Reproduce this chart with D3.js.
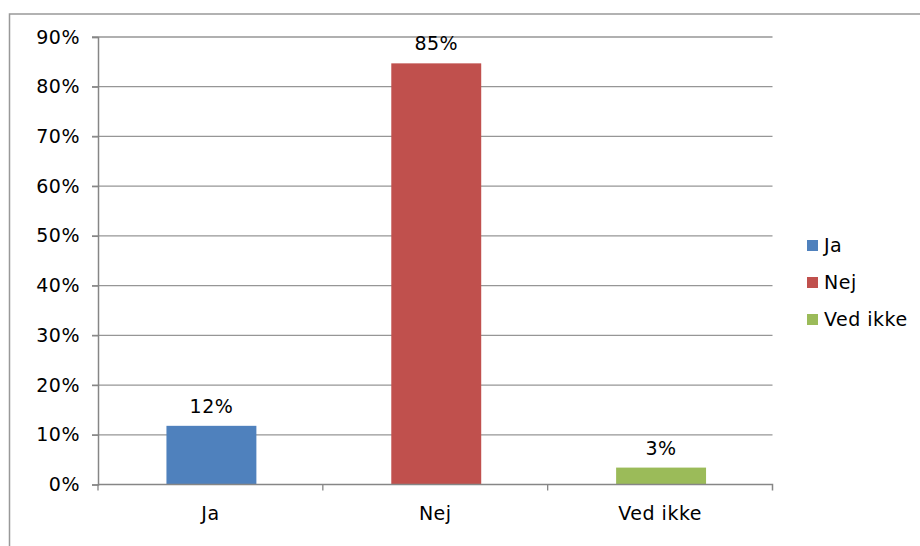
<!DOCTYPE html>
<html>
<head>
<meta charset="utf-8">
<script src="https://cdn.jsdelivr.net/npm/d3@7.9.0/dist/d3.min.js"></script>
<style>
  body { margin: 0; background: #fff; }
  svg text { font-family: Verdana, "DejaVu Sans", sans-serif; font-size: 19px; letter-spacing: 0.5px; fill: #000; }
</style>
</head>
<body>
<svg id="chart" width="920" height="546"></svg>
<script>
const categories = ["Ja", "Nej", "Ved ikke"];
const values = [11.8, 84.7, 3.4];
const colors = ["#4f81bd", "#c0504d", "#9bbb59"];
const yTicks = [0, 10, 20, 30, 40, 50, 60, 70, 80, 90];

const svg = d3.select("#chart");
const font = 'Verdana, "DejaVu Sans", sans-serif';

// outer frame (goes past the right/bottom edges)
svg.append("rect")
  .attr("x", 9.5).attr("y", 14)
  .attr("width", 930).attr("height", 560)
  .attr("fill", "none").attr("stroke", "#999").attr("stroke-width", 1.5);

const plot = { left: 98, right: 772.5, top: 37, bottom: 484.5 };

const x = d3.scaleBand().domain(categories)
  .range([plot.left, plot.right]).paddingInner(0).paddingOuter(0);
const y = d3.scaleLinear().domain([0, 90]).range([plot.bottom, plot.top]);

// gridlines
svg.append("g").selectAll("line").data(yTicks.filter(d => d > 0)).join("line")
  .attr("x1", plot.left - 6).attr("x2", plot.right)
  .attr("y1", d => y(d)).attr("y2", d => y(d))
  .attr("stroke", "#969696").attr("stroke-width", 1.3);

// y axis
const yAxis = svg.append("g").attr("transform", `translate(${plot.left},0)`)
  .call(d3.axisLeft(y).tickValues(yTicks).tickSize(6).tickPadding(12).tickFormat(d => d + "%"));
yAxis.select(".domain").attr("stroke", "#868686").attr("stroke-width", 1.5);
yAxis.selectAll(".tick line").attr("stroke", "#868686").attr("stroke-width", 1.3);
yAxis.selectAll("text").attr("fill", "#000").style("font-size", "19px").style("font-family", font);

// bars
const bw = x.bandwidth() * 0.4;
svg.append("g").selectAll("rect").data(categories).join("rect")
  .attr("x", d => x(d) + (x.bandwidth() - bw) / 2 + 1)
  .attr("width", bw)
  .attr("y", (d, i) => y(values[i]))
  .attr("height", (d, i) => y(0) - y(values[i]))
  .attr("fill", (d, i) => colors[i]);

// x axis
const xAxis = svg.append("g").attr("transform", `translate(0,${plot.bottom})`)
  .call(d3.axisBottom(x).tickSize(0).tickPadding(22));
xAxis.select(".domain").attr("stroke", "#868686").attr("stroke-width", 1.5)
  .attr("d", `M${plot.left},0H${plot.right}V6`);
xAxis.selectAll("text").attr("fill", "#000").style("font-size", "19px").style("font-family", font);
// category separator ticks
svg.append("g").selectAll("line").data(categories.slice(1)).join("line")
  .attr("x1", d => x(d)).attr("x2", d => x(d))
  .attr("y1", plot.bottom).attr("y2", plot.bottom + 6)
  .attr("stroke", "#868686").attr("stroke-width", 1.3);
svg.append("line")
  .attr("x1", plot.left).attr("x2", plot.left)
  .attr("y1", plot.bottom).attr("y2", plot.bottom + 6)
  .attr("stroke", "#868686").attr("stroke-width", 1.3);

// value labels
svg.append("g").selectAll("text").data(categories).join("text")
  .attr("x", d => x(d) + x.bandwidth() / 2 + 1)
  .attr("y", (d, i) => y(values[i]) - 13)
  .attr("text-anchor", "middle")
  .text((d, i) => Math.round(values[i]) + "%");

// legend
const legend = svg.append("g").attr("transform", "translate(807,240)");
categories.forEach((c, i) => {
  const g = legend.append("g").attr("transform", `translate(0,${i * 37})`);
  g.append("rect").attr("width", 11).attr("height", 11).attr("fill", colors[i]);
  g.append("text").attr("x", 17).attr("y", 12).text(c);
});
</script>
</body>
</html>
